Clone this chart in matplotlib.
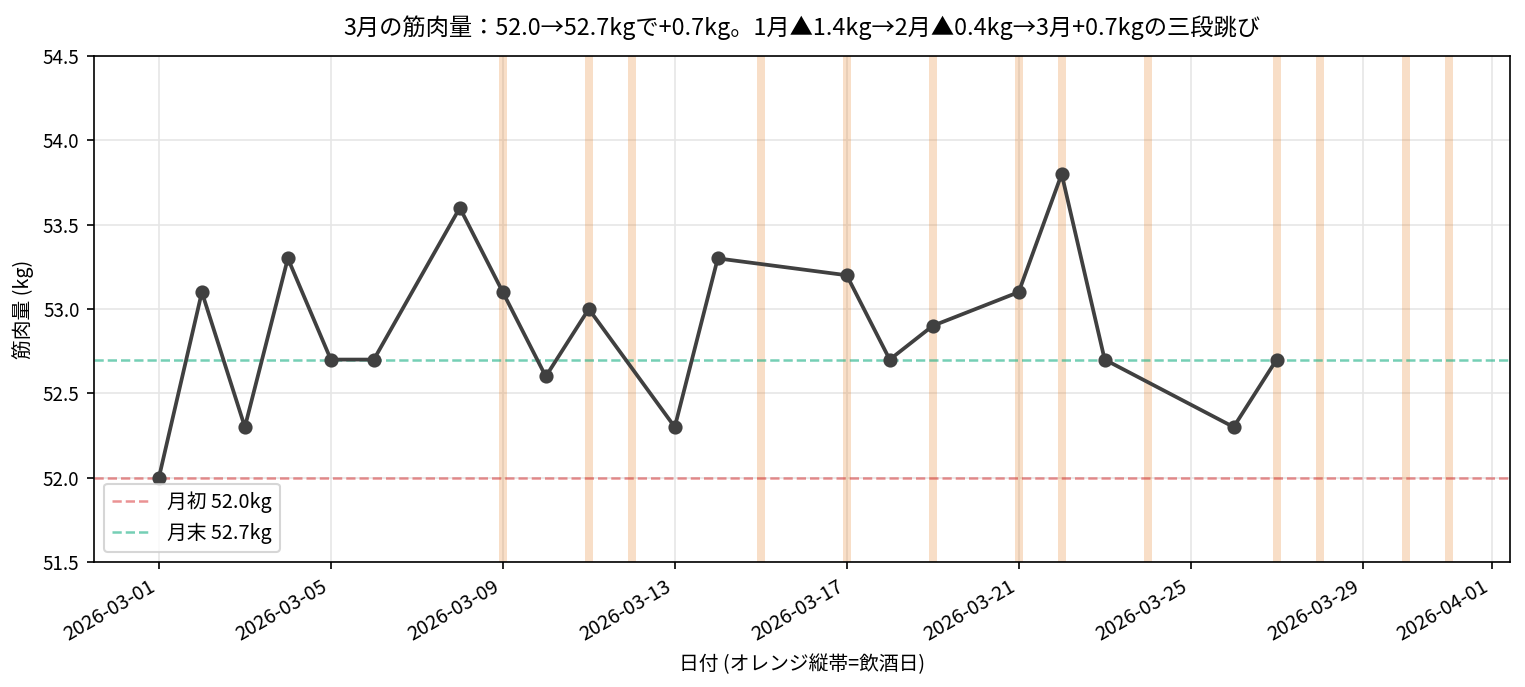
import numpy as np
import pandas as pd
import matplotlib
matplotlib.use("Agg")
import matplotlib.pyplot as plt
import matplotlib.dates as mdates

plt.rcParams['font.family'] = ['Noto Sans CJK JP', 'DejaVu Sans']

dates = ["2026-03-01", "2026-03-02", "2026-03-03", "2026-03-04", "2026-03-05",
         "2026-03-06", "2026-03-08", "2026-03-09", "2026-03-10", "2026-03-11",
         "2026-03-13", "2026-03-14", "2026-03-17", "2026-03-18", "2026-03-19",
         "2026-03-21", "2026-03-22", "2026-03-23", "2026-03-26", "2026-03-27"]
muscle = [52.0, 53.1, 52.3, 53.3, 52.7,
          52.7, 53.6, 53.1, 52.6, 53.0,
          52.3, 53.3, 53.2, 52.7, 52.9,
          53.1, 53.8, 52.7, 52.3, 52.7]
drink_days = ["2026-03-09", "2026-03-11", "2026-03-12", "2026-03-15", "2026-03-17",
              "2026-03-19", "2026-03-21", "2026-03-22", "2026-03-24", "2026-03-27",
              "2026-03-28", "2026-03-30", "2026-03-31"]
start_val = 52.0
end_val = 52.7

x = pd.to_datetime(dates)
drinks = pd.to_datetime(drink_days)

fig = plt.figure(figsize=(10.17, 4.58), dpi=150)
ax = fig.add_axes([0.0616, 0.182, 0.928, 0.7365])

half = pd.Timedelta(hours=2.2)
for d in drinks:
    ax.axvspan(d - half, d + half, color='#e67e22', alpha=0.25, lw=0)

ax.plot(x, muscle, color='#404040', lw=1.8, marker='o', ms=5.8, zorder=3)
ax.axhline(start_val, color='tab:red', alpha=0.5, ls='--', lw=1.2,
           label=f'月初 {start_val:.1f}kg')
ax.axhline(end_val, color='#1aaf84', alpha=0.6, ls='--', lw=1.2,
           label=f'月末 {end_val:.1f}kg')

ax.set_ylim(51.5, 54.5)
ax.set_xlim(pd.Timestamp("2026-03-01") - pd.Timedelta(days=1.51),
            pd.Timestamp("2026-04-01") + pd.Timedelta(days=0.42))
ax.xaxis.set_major_locator(mdates.DayLocator(bymonthday=[1, 5, 9, 13, 17, 21, 25, 29]))
ax.xaxis.set_major_formatter(mdates.DateFormatter('%Y-%m-%d'))
ax.grid(True, color='#e6e6e6', lw=0.8)
ax.set_axisbelow(True)
for lab in ax.get_xticklabels():
    lab.set_rotation(30)
    lab.set_ha('right')
ax.tick_params(axis='y', labelsize=9)
ax.tick_params(axis='x', labelsize=9.5)

ax.set_title('3月の筋肉量：52.0→52.7kgで+0.7kg。1月▲1.4kg→2月▲0.4kg→3月+0.7kgの三段跳び',
             fontsize=11.2, pad=10)
ax.set_xlabel('日付 (オレンジ縦帯=飲酒日)', fontsize=9.5)
ax.set_ylabel('筋肉量 (kg)', fontsize=9.5)
ax.legend(loc='lower left', fontsize=9.5)

fig.savefig('out.png', dpi=150)
